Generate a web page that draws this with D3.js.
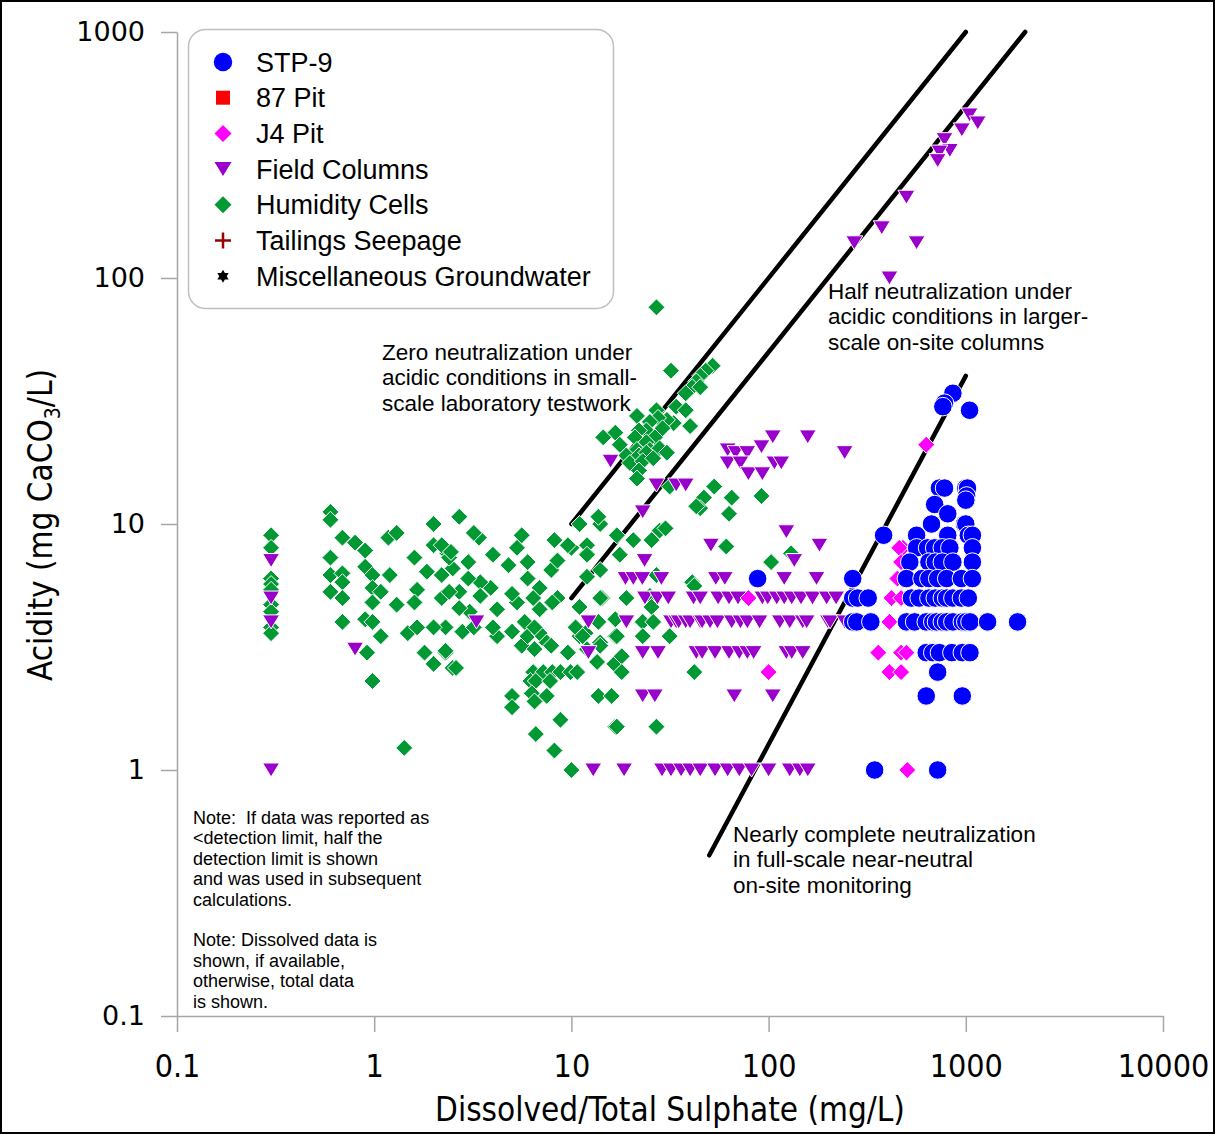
<!DOCTYPE html>
<html>
<head>
<meta charset="utf-8">
<script src="https://cdn.jsdelivr.net/npm/d3@7"></script>
<style>
  body { margin: 0; background: #fff; }
  svg { display: block; }
</style>
</head>
<body>
<div id="chart"></div>
<script>
// Parameters
const width = 1215;
const height = 1134;
const plot = { left: 177, right: 1163, top: 32, bottom: 1016 };

// tick values
const xTicks = [0.1, 1, 10, 100, 1000, 10000];
const yTicks = [0.1, 1, 10, 100, 1000];

// series : [sulphate mg/L, acidity mg CaCO3/L]
const stp9 = [
  [860,34],[780,31],[765,30],[1045,29],
  [735,14],[780,14],[1000,14],[1020,14],[1010,13],[695,12],[1000,12.5],[810,11],
  [670,10],[985,10],[1000,10],
  [383,9],[563,9],[810,9],[1030,9],[1080,9],
  [563,8],[640,8],[695,8],[760,8],[830,8],[1080,8],
  [520,7],[650,7],[700,7],[760,7],[860,7],[1080,7],
  [88,6],[267,6],[500,6],[600,6],[650,6],[720,6],[800,6],[950,6],[1080,6],
  [267,5],[283,5],[320,5],[530,5],[580,5],[650,5],[700,5],[760,5],[800,5],[860,5],[950,5],[1030,5],
  [267,4],[280,4],[330,4],[500,4],[550,4],[630,4],[680,4],[710,4],[760,4],[800,4],[860,4],[960,4],[1000,4],[1050,4],[1290,4],[1830,4],
  [630,3],[680,3],[735,3],[850,3],[960,3],[1050,3],
  [720,2.5],[630,2],[960,2],[345,1],[720,1]
];
const pit87 = [];
const j4Pit = [
  [630,21],[480,8],[460,8],[470,7],[450,6],[420,5],[470,5],[410,4],
  [360,3],[470,3],[500,3],[410,2.5],[470,2.5],[505,1],[79,5],[100,2.5]
];
const fieldColumns = [
  [1045,460],[1150,427],[955,400],[780,365],[830,330],[735,325],[720,300],[500,213],
  [375,160],[272,139],[563,139],[410,100],
  [105,22.6],[158,22.6],[243,19.5],[62,20],[68,19.5],[78,19.5],[92,20.6],[62,17.7],[72,17.7],
  [79,16],[93,16],[107,17.7],[116,17.7],[15.8,18],[27,14.4],[34,14.4],[38,14.4],[23,11.2],
  [123,9.3],[51,8.2],[181,8.2],[135,7.1],[23.5,7.1],
  [18.8,6],[20.6,6],[22.9,6],[28.6,6],[54,6],[60,6],[120,6],[175,6],
  [23.6,5],[27.3,5],[31,5],[41.6,5],[45,5],[55.5,5],[63,5],[70,5],[93,5],[99,5],[110,5],
  [120,5],[131,5],[146,5],[167,5],[197,5],[220,5],
  [3.3,4],[12.2,4],[19,4],[32,4],[34,4],[35,4],[38,4],[40,4],[45,4],[46,4],[50.5,4],[55,4],
  [65,4],[72,4],[78,4],[90,4],[114,4],[128,4],[149,4],[156,4],[200,4],[205,4],[243,4],[270,4],
  [0.8,3.1],[12.2,3],[23,3],[27.5,3],[43,3],[46,3],[53.5,3],[63,3],[71,3],[78,3],[84,3],
  [123,3],[131,3],[149,3],
  [23,2],[26.5,2],[67,2],[105,2],
  [12.9,1],[18.5,1],[28.8,1],[32,1],[36,1],[40,1],[45,1],[53.5,1],[62,1],[71,1],[82,1],
  [100,1],[128,1],[144,1],[158,1],
  [0.3,7.1],[0.3,5],[0.3,4],[0.3,1]
];
const humidityCells = [
  [0.3,9],[0.3,8],[0.3,6],[0.3,5.7],[0.3,5.4],[0.3,4.7],[0.3,4.4],[0.3,3.8],[0.3,3.6],
  [0.6,11.2],[0.6,10.4],[0.6,7.3],[0.6,6.2],[0.6,5.3],
  [0.69,8.8],[0.69,6.3],[0.69,5.8],[0.69,5],[0.69,4],
  [0.8,8.4],[0.9,7.8],[0.9,6.7],[0.98,6.2],[0.98,5.5],[1.08,5.3],[0.98,4.8],[0.9,4.1],
  [0.98,4],[1.08,3.5],[0.92,3],[0.98,2.3],
  [1.2,6.2],[1.18,8.8],[1.3,9.2],[1.3,4.7],[1.42,1.23],[1.48,3.6],[1.65,3.8],[1.8,3],
  [2,2.7],[2.3,3],[2.5,2.6],[2,10],[1.6,7.3],[2,8.2],[1.65,5.4],[1.6,4.8],[2.2,5],[2.2,6.2],
  [2.35,7.6],[2.3,3.8],[2,3.8],[1.85,6.4],
  [2.7,10.7],[3.4,8.8],[3.2,9.2],[4,7.5],[5.6,9],[5.3,8],[4.8,6.8],[6,7],[6,6],[6.9,5.5],
  [6.4,5],[5.3,4.8],[4.2,4.5],[5,5.2],[3.9,5.5],[3.45,5.8],[3,6],[2.7,5.3],[2.4,5.3],
  [2.5,6.6],[3,7],[2.4,7.3],[2.2,8.2],[2.45,7.7],[3.45,5.1],[3.05,4.4],[2.7,4.55],
  [2.8,3.65],[2.3,3.05],[2.6,2.6],[3.2,3.8],[4.2,3.5],[4,3.8],[5,3.65],[5.6,3.2],[6.5,3.1],
  [6,3.5],[6.9,3.6],[7.5,3.3],[7.9,3.2],[5.8,4],[6.5,3.8],[6.9,4.5],[8.5,5],[8,4.8],
  [7.9,6.5],[8.5,7.1],[8.2,8.6],[10,8],[9.6,3],[11,3.5],[10.5,3.8],[13.5,2.75],[12,3.1],
  [6.4,2.5],[7.2,2.5],[8,2.5],[8.8,2.5],[9.9,2.5],[10.7,2.5],[6.2,2.3],[6.6,2.3],[7.8,2.3],
  [6.3,2.05],[6.5,1.9],[7.5,2],[5,2],[5,1.8],[8.8,1.6],[6.6,1.4],[8.2,1.2],[10,1],
  [13.7,2],[16,2],[16.7,1.5],
  [14,10],[11,10],[14,6.5],[12,7.6],[12,6.1],[14.3,5],[11,4.6],[13.7,4],[11.8,3.6],
  [14,3.3],[16.7,3.5],[16.5,2.7],[16.7,4.1],
  [9.6,8.2],[12,8.2],[12,7.5],[17.6,7.5],[20.6,8.6],[25.5,8.6],[28,9.4],[17,9],[14,5],
  [19,5],[27,6.2],[25,5.1],[25.5,4.6],[23,4],[26,4],[11.4,3.5],[17,3.5],[23,3.5],
  [31.5,3.5],[14,3.2],[18,2.9],[18,2.5],[17,1.5],[27,1.5],[42,2.5],
  [53,14.2],[65,12.8],[47,12.8],[45,11.6],[63,11],[92,13],[61,8.1],[103,7],[30,9.6],
  [41,5.8],[130,7.6],[42,5.6],
  [27,76],[32,42],[52,44],[48,42],[45,40],[43,38],[41,36],[38,34],[45,36],[34,30],[38,29],
  [40,25],[33,25.7],[30.5,26.5],[27,29],[27.5,27],[21.5,27.5],[29,24.5],[25,26],[24,24],
  [22,24],[21,22.5],[26.5,22.5],[16.7,23.5],[14.5,22.5],[17.6,21],[24,21.5],[21.5,20],
  [25,20],[28,20.3],[19,19],[22,19],[24,19.5],[30.5,19.5],[19.8,17.7],[23,18],[26,18.5],
  [22,16.5],[21.5,15.3],[31.5,14.2],[43,11.8],[13.7,10.7]
];
const tailingsSeepage = [];
const miscGroundwater = [];

// reference lines
const zeroLine = [[10,10],[1000,1000]];
const halfLine = [[10,5],[2000,1000]];
const completeLine = [[50,0.45],[1000,40]];

const legendNames = ['STP-9','87 Pit','J4 Pit','Field Columns','Humidity Cells','Tailings Seepage','Miscellaneous Groundwater'];

// custom marker shapes
const triDown = { draw(ctx, size) { const w = 8.5, h = 7; ctx.moveTo(-w,-h); ctx.lineTo(w,-h); ctx.lineTo(0,h); ctx.closePath(); } };
const diamond = { draw(ctx, size) { const r = Math.sqrt(size); ctx.moveTo(0,-r); ctx.lineTo(r,0); ctx.lineTo(0,r); ctx.lineTo(-r,0); ctx.closePath(); } };
const star6 = { draw(ctx, size) { const r = 6.5, a = r/2, b = r*Math.sqrt(3)/2;
  ctx.moveTo(0,-r); ctx.lineTo(b,a); ctx.lineTo(-b,a); ctx.closePath();
  ctx.moveTo(0,r); ctx.lineTo(-b,-a); ctx.lineTo(b,-a); ctx.closePath(); } };

const series = [
  { name: 'STP-9', data: stp9, shape: d3.symbolCircle, size: 270, color: '#0000ff' },
  { name: '87 Pit', data: pit87, shape: d3.symbolSquare, size: 196, color: '#ff0000' },
  { name: 'J4 Pit', data: j4Pit, shape: diamond, size: 72, color: '#ff00ff' },
  { name: 'Field Columns', data: fieldColumns, shape: triDown, size: 0, color: '#9900cc' },
  { name: 'Humidity Cells', data: humidityCells, shape: diamond, size: 72, color: '#009933' },
  { name: 'Tailings Seepage', data: tailingsSeepage, shape: d3.symbolCross, size: 0, color: '#990000', cross: true },
  { name: 'Miscellaneous Groundwater', data: miscGroundwater, shape: star6, size: 0, color: '#000000' }
];
const drawOrder = ['Humidity Cells','Field Columns','Tailings Seepage','Miscellaneous Groundwater','87 Pit','J4 Pit','STP-9'];

const svg = d3.select('#chart').append('svg')
  .attr('width', width)
  .attr('height', height)
  .style('font-family', 'Liberation Sans, Arial, sans-serif');

svg.append('rect').attr('x', 1).attr('y', 1).attr('width', width - 2).attr('height', height - 2)
  .attr('fill', '#fff').attr('stroke', '#000').attr('stroke-width', 2);

const x = d3.scaleLog().domain([0.1, 10000]).range([plot.left, plot.right]);
const y = d3.scaleLog().domain([0.1, 1000]).range([plot.bottom, plot.top]);

// minor ticks 2..9 in each decade
const minors = (ticks) => ticks.slice(0, -1).flatMap(t => d3.range(2, 10).map(k => +(t * k).toPrecision(2)));

const axisColor = '#a6a6a6';
const narrow = '"Liberation Sans Narrow", "DejaVu Sans Condensed", "Roboto Condensed", Lato, sans-serif';

const gx = svg.append('g').attr('transform', `translate(0,${plot.bottom})`);
gx.call(d3.axisBottom(x).tickValues(minors(xTicks)).tickSize(8).tickSizeOuter(0).tickFormat(''));
gx.call(d3.axisBottom(x).tickValues(xTicks).tickSize(16).tickSizeOuter(0).tickPadding(22).tickFormat(d => String(d)));
gx.selectAll('path, line').attr('stroke', axisColor).attr('stroke-width', 1.5);
gx.selectAll('text').attr('fill', '#000').style('font-family', narrow).style('font-size', '32px');

const gy = svg.append('g').attr('transform', `translate(${plot.left},0)`);
gy.call(d3.axisLeft(y).tickValues(minors(yTicks)).tickSize(8).tickSizeOuter(0).tickFormat(''));
gy.call(d3.axisLeft(y).tickValues(yTicks).tickSize(16).tickSizeOuter(0).tickPadding(16).tickFormat(d => String(d)));
gy.selectAll('path, line').attr('stroke', axisColor).attr('stroke-width', 1.5);
gy.selectAll('text').attr('fill', '#000').style('font-family', '"DejaVu Sans", Verdana, sans-serif').style('font-size', '27px');

// axis titles
svg.append('text')
  .attr('x', 670).attr('y', 1121)
  .attr('text-anchor', 'middle')
  .style('font-family', narrow).style('font-size', '33px')
  .text('Dissolved/Total Sulphate (mg/L)');

const yTitle = svg.append('text')
  .attr('transform', 'translate(52,525) rotate(-90)')
  .attr('text-anchor', 'middle')
  .style('font-family', narrow).style('font-size', '33px');
yTitle.append('tspan').text('Acidity (mg CaCO');
yTitle.append('tspan').attr('dy', 8).style('font-size', '21px').text('3');
yTitle.append('tspan').attr('dy', -8).text('/L)');

// reference lines
const line = d3.line().x(d => x(d[0])).y(d => y(d[1]));
svg.append('g').selectAll('path')
  .data([zeroLine, halfLine, completeLine])
  .join('path')
  .attr('d', line)
  .attr('fill', 'none')
  .attr('stroke', '#000')
  .attr('stroke-width', 4.5)
  .attr('stroke-linecap', 'round');

// points
const symbolFor = s => d3.symbol().type(s.shape).size(s.size);
drawOrder.forEach(name => {
  const s = series.find(d => d.name === name);
  svg.append('g').selectAll('path')
    .data(s.data)
    .join('path')
    .attr('transform', d => `translate(${x(d[0])},${y(d[1])})`)
    .attr('d', symbolFor(s))
    .attr('fill', s.color)
    .attr('stroke', '#fff')
    .attr('stroke-width', 1);
});

// annotations
const notes = [
  { x: 382, y: 360, lines: ['Zero neutralization under', 'acidic conditions in small-', 'scale laboratory testwork'] },
  { x: 828, y: 299, lines: ['Half neutralization under', 'acidic conditions in larger-', 'scale on-site columns'] },
  { x: 733, y: 842, lines: ['Nearly complete neutralization', 'in full-scale near-neutral', 'on-site monitoring'] }
];
notes.forEach(n => {
  svg.append('g').selectAll('text')
    .data(n.lines)
    .join('text')
    .attr('x', n.x)
    .attr('y', (d, i) => n.y + i * 25.3)
    .style('font-size', '22.5px')
    .text(d => d);
});

const footNotes = ['Note:  If data was reported as', '<detection limit, half the', 'detection limit is shown',
  'and was used in subsequent', 'calculations.', '', 'Note: Dissolved data is', 'shown, if available,',
  'otherwise, total data', 'is shown.'];
svg.append('g').selectAll('text')
  .data(footNotes)
  .join('text')
  .attr('x', 193)
  .attr('y', (d, i) => 824 + i * 20.4)
  .style('font-size', '18px')
  .style('white-space', 'pre')
  .text(d => d);

// legend
const legend = svg.append('g');
legend.append('rect')
  .attr('x', 188.5).attr('y', 29.5).attr('width', 425).attr('height', 279).attr('rx', 17)
  .attr('fill', '#fff').attr('stroke', '#bfbfbf').attr('stroke-width', 1.5);
const item = legend.selectAll('g')
  .data(legendNames.map(n => series.find(s => s.name === n)))
  .join('g')
  .attr('transform', (d, i) => `translate(223,${62 + i * 35.7})`);
item.append('path')
  .attr('d', d => d.cross ? 'M-8,0H8M0,-8V8' : d3.symbol().type(d.shape).size(d.size)())
  .attr('fill', d => d.cross ? 'none' : d.color)
  .attr('stroke', d => d.cross ? d.color : 'none')
  .attr('stroke-width', d => d.cross ? 2.5 : 0);
item.append('text')
  .attr('x', 33).attr('y', 9.5)
  .style('font-size', '27px')
  .text(d => d.name);
</script>
</body>
</html>
